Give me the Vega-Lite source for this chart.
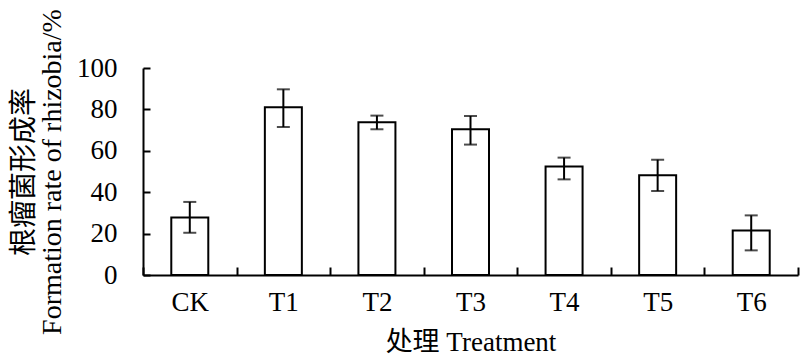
{
  "$schema": "https://vega.github.io/schema/vega-lite/v6.json",
  "width": 655,
  "height": 207,
  "autosize": {"type": "none"},
  "padding": {"left": 143, "top": 68, "right": 2, "bottom": 82},
  "background": "white",
  "data": {"values": [
    {"treatment": "CK", "rate": 27.8, "lo": 20.4, "hi": 35.3},
    {"treatment": "T1", "rate": 81.0, "lo": 71.5, "hi": 89.7},
    {"treatment": "T2", "rate": 73.8, "lo": 70.4, "hi": 77.0},
    {"treatment": "T3", "rate": 70.4, "lo": 63.0, "hi": 76.8},
    {"treatment": "T4", "rate": 52.4, "lo": 46.2, "hi": 56.7},
    {"treatment": "T5", "rate": 48.2, "lo": 40.6, "hi": 55.7},
    {"treatment": "T6", "rate": 21.5, "lo": 11.9, "hi": 28.8}
  ]},
  "encoding": {
    "x": {
      "field": "treatment", "type": "nominal", "sort": null,
      "scale": {"paddingInner": 0, "paddingOuter": 0},
      "axis": {
        "title": "处理 Treatment",
        "labelAngle": 0,
        "tickBand": "extent",
        "tickSize": -8,
        "tickWidth": 2,
        "tickColor": "black",
        "domainWidth": 2,
        "domainColor": "black",
        "labelFont": "Liberation Serif, Noto Sans CJK SC, serif",
        "labelFontSize": 27,
        "labelColor": "black",
        "labelPadding": 22,
        "titleFont": "Liberation Serif, Noto Sans CJK SC, serif",
        "titleFontSize": 27,
        "titleFontWeight": "normal",
        "titleColor": "black",
        "titlePadding": 14
      }
    }
  },
  "layer": [
    {
      "mark": {"type": "bar", "size": 37, "fill": "white", "stroke": "black", "strokeWidth": 2},
      "encoding": {
        "y": {
          "field": "rate", "type": "quantitative",
          "scale": {"domain": [0, 100]},
          "axis": {
            "title": ["根瘤菌形成率", "Formation rate of rhizobia/%"],
            "values": [0, 20, 40, 60, 80, 100],
            "grid": false,
            "tickSize": -7,
            "tickWidth": 2,
            "tickColor": "black",
            "domainWidth": 2,
            "domainColor": "black",
            "labelFont": "Liberation Serif, Noto Sans CJK SC, serif",
            "labelFontSize": 27,
            "labelColor": "black",
            "labelPadding": 33,
            "titleFont": "Liberation Serif, Noto Sans CJK SC, serif",
            "titleFontSize": 28,
            "titleFontWeight": "normal",
            "titleColor": "black",
            "titleLineHeight": 28,
            "titlePadding": 10
          }
        }
      }
    },
    {
      "mark": {"type": "rule", "color": "black", "strokeWidth": 2},
      "encoding": {"y": {"field": "lo", "type": "quantitative"}, "y2": {"field": "hi"}}
    },
    {
      "mark": {"type": "tick", "color": "black", "thickness": 2, "size": 13, "orient": "horizontal"},
      "encoding": {"y": {"field": "lo", "type": "quantitative"}}
    },
    {
      "mark": {"type": "tick", "color": "black", "thickness": 2, "size": 13, "orient": "horizontal"},
      "encoding": {"y": {"field": "hi", "type": "quantitative"}}
    }
  ],
  "config": {"view": {"stroke": null}}
}
